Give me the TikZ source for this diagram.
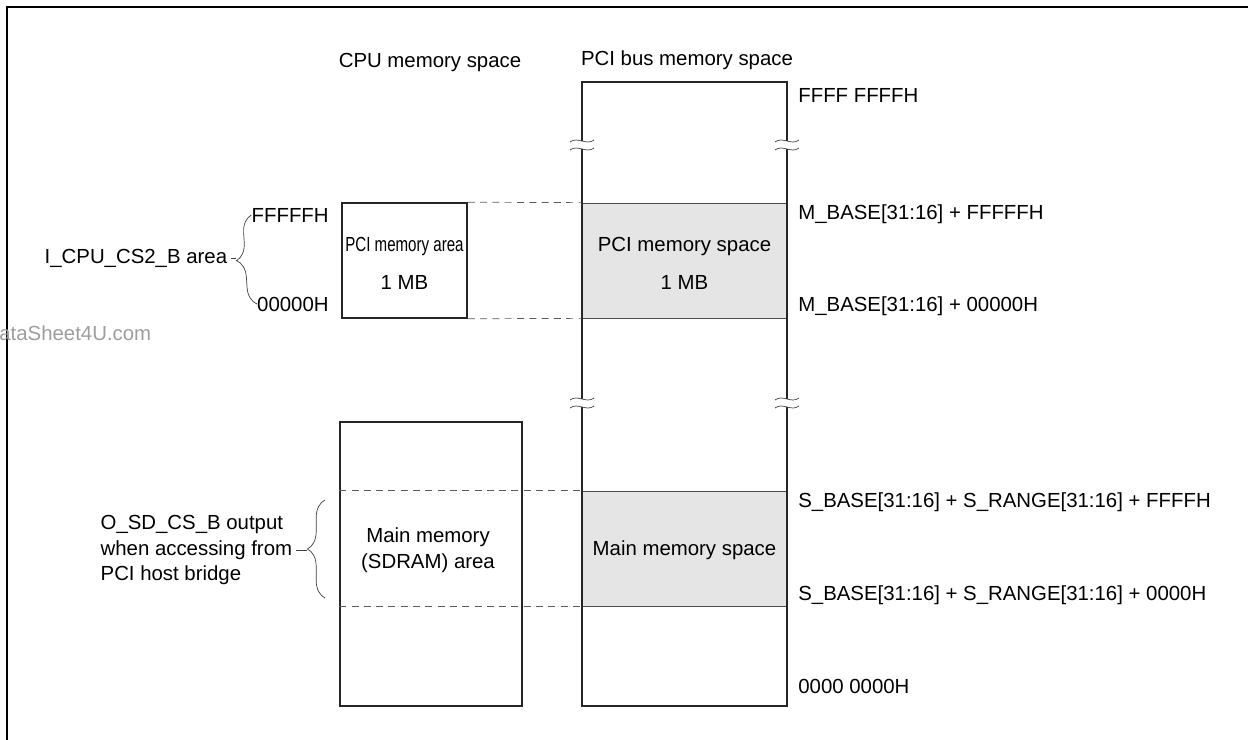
\documentclass[tikz,border=0pt]{standalone}
\usepackage{fontspec}
\usepackage{graphicx}
\setmainfont{Liberation Sans}
\usetikzlibrary{positioning,decorations.pathreplacing}
\definecolor{spacegray}{RGB}{229,229,229}
\definecolor{dashgray}{RGB}{90,90,90}

\begin{document}
\begin{tikzpicture}[x=0.2mm,y=-0.2mm,
	every node/.style={font=\fontsize{11.6}{14.5}\selectfont, inner sep=0pt},
	memblk/.style={draw=black!85, line width=0.9pt},
	spaceblk/.style={draw=black!70, fill=spacegray, line width=0.4pt},
	dashline/.style={draw=dashgray, dash pattern=on 4pt off 3pt, line width=0.4pt},
	bracelbl/.style={decorate, decoration={brace, amplitude=10pt}, draw=black!75, line width=0.4pt},
	breakmark/.style={draw=black!75, line width=0.4pt}]
	\useasboundingbox (0,0) rectangle (1248,740);
	
	% Cornice
	\draw[line width=1.3pt] (7,745) -- (7,7) -- (1255,7);
	
	% Titoli
	\node (cputitle) at (430,62) {CPU memory space};
	\node (pcititle) at (687,60) {PCI bus memory space};
	
	% Spazio di memoria PCI
	\node[spaceblk, minimum width=41mm, minimum height=23mm] (pcispc) at (684.5,260.5) {};
	\node[spaceblk, minimum width=41mm, minimum height=23mm] (mainspc) at (684.5,548.5) {};
	\node[memblk, minimum width=41mm, minimum height=124.8mm] (pcibus) at (684.5,394) {};
	\foreach \bx in {582,787} \foreach \by in {145,403} {
		\fill[white] (\bx-3,\by-4) rectangle (\bx+3,\by+4);
		\draw[breakmark] (\bx-12,\by-3) .. controls (\bx-4,\by-9) and (\bx+4,\by+1) .. (\bx+12,\by-5);
		\draw[breakmark] (\bx-12,\by+5) .. controls (\bx-4,\by-1) and (\bx+4,\by+9) .. (\bx+12,\by+3);
	}
	\node (pcispctxt) at (684.5,246) {PCI memory space};
	\node (pcispcsz) at (684.5,282) {1 MB};
	\node (mainspctxt) at (684.5,550) {Main memory space};
	
	% Indirizzi
	\node[anchor=west] (adtop) at (798,95) {FFFF FFFFH};
	\node[anchor=west] (admhi) at (798,214) {M\_BASE[31:16] + FFFFFH};
	\node[anchor=west] (admlo) at (798,306) {M\_BASE[31:16] + 00000H};
	\node[anchor=west] (adshi) at (798,502) {S\_BASE[31:16] + S\_RANGE[31:16] + FFFFH};
	\node[anchor=west] (adslo) at (798,595) {S\_BASE[31:16] + S\_RANGE[31:16] + 0000H};
	\node[anchor=west] (adbot) at (798,686) {0000 0000H};
	
	% Spazio di memoria CPU
	\node[memblk, minimum width=25mm, minimum height=23mm] (cpupci) at (404.5,260.5) {};
	\node (cpupcitxt) at (404.5,246) {\scalebox{0.74}[1]{PCI memory area}};
	\node (cpupcisz) at (404.5,282) {1 MB};
	\node[memblk, minimum width=36.4mm, minimum height=56.8mm] (mainmem) at (431,564) {};
	\node[align=center] (mainmemtxt) at (428,550) {Main memory\\(SDRAM) area};
	
	% Collegamenti tratteggiati
	\draw[dashline] (cpupci.north east) -- (pcispc.north west);
	\draw[dashline] (cpupci.south east) -- (pcispc.south west);
	\draw[dashline] (mainmem.west |- mainspc.north west) -- (mainspc.north west);
	\draw[dashline] (mainmem.west |- mainspc.south west) -- (mainspc.south west);
	
	% Parentesi
	\node[anchor=east] (cpuhi) at (329,215) {FFFFFH};
	\node[anchor=east] (cpulo) at (329,304) {00000H};
	\draw[bracelbl] (cpulo.west) -- (cpuhi.west);
	\node[anchor=east, inner sep=2pt] (cs2lbl) at (231,258) {I\_CPU\_CS2\_B area};
	\coordinate (cs2tip) at (236,258);
	\draw[black!75, line width=0.4pt] (cs2lbl.east) -- (cs2tip);
	
	\coordinate (sdhi) at (325,500);
	\coordinate (sdlo) at (325,598);
	\draw[bracelbl] (sdlo) -- (sdhi);
	\node[anchor=east, align=left, inner sep=2pt] (sdlbl) at (296,550) {O\_SD\_CS\_B output\\when accessing from\\PCI host bridge};
	\coordinate (sdtip) at (307,550);
	\draw[black!75, line width=0.4pt] (sdlbl.east) -- (sdtip);
	
	% Filigrana
	\node[anchor=west, text=black!38] (wmark) at (-1,333) {ataSheet4U.com};
\end{tikzpicture}
\end{document}
